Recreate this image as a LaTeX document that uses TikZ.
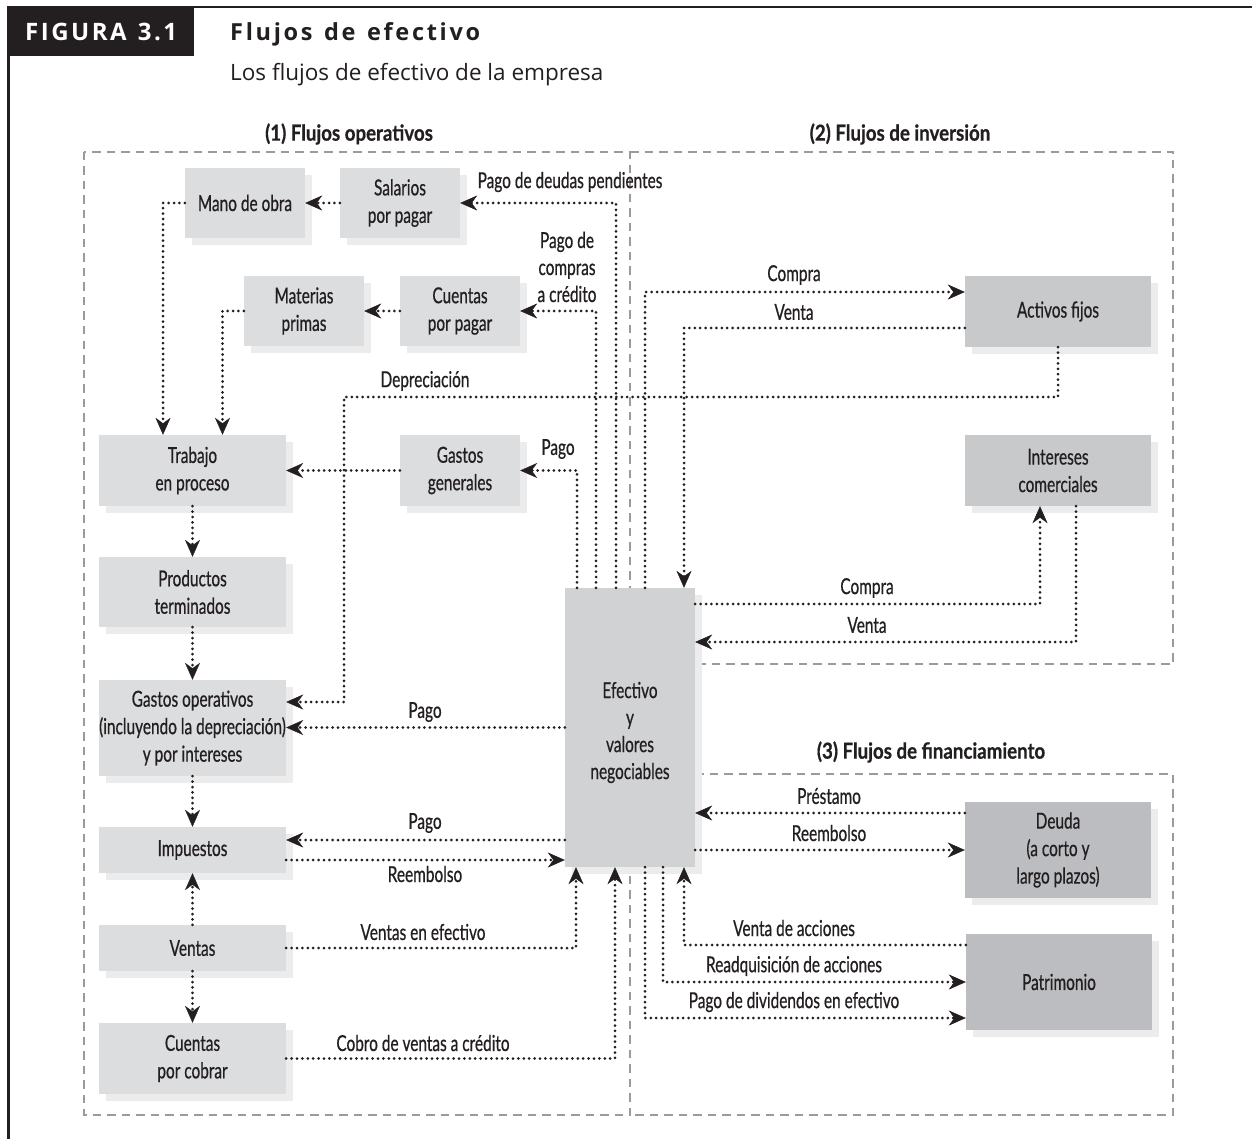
\documentclass[tikz,border=0pt]{standalone}
\usepackage{fontspec}
\setmainfont{Lato}
\newfontfamily\cond[FakeStretch=0.70,FakeBold=0.6]{Lato}
\newfontfamily\condb[FakeStretch=0.85,FakeBold=0.6]{Lato Bold}
\newfontfamily\hdr{Open Sans}
\usetikzlibrary{arrows.meta,shadows}
\definecolor{ink}{RGB}{35,31,32}
\definecolor{boxlight}{RGB}{220,221,223}
\definecolor{boxmid}{RGB}{200,201,203}
\definecolor{boxdark}{RGB}{188,189,192}
\definecolor{cashc}{RGB}{209,210,212}
\definecolor{shadowc}{RGB}{236,236,237}
\definecolor{regc}{RGB}{155,155,155}
% manual letter spacing to a target width
\newlength\lspw
\makeatletter
\def\lsp@end{\lsp@end}
\def\lsp#1{\lsp@#1\lsp@end}
\def\lsp@#1{\ifx#1\lsp@end\else#1\kern\lspamt\relax\expandafter\lsp@\fi}
\newcommand\spreadto[3]{\settowidth\lspw{#3}\edef\lspamt{\the\dimexpr(#1-\lspw)/#2\relax}\lsp{#3}\unkern}
\makeatother
\tikzset{
  box/.style={fill=boxlight, inner sep=0pt, align=center, text=ink,
    font=\cond\fontsize{22}{27.5}\selectfont,
    drop shadow={shadow xshift=7pt, shadow yshift=-7pt, fill=shadowc, opacity=1}},
  sz/.style 2 args={minimum width=#1pt, minimum height=#2pt},
  flow/.style={line width=3pt, dash pattern=on 0pt off 5.4pt, line cap=round, draw=ink},
  arr/.style={-{Stealth[length=17pt,width=15pt,inset=5.5pt,line width=0.4pt]}},
  region/.style={draw=regc, line width=2.2pt, dash pattern=on 8.5pt off 6pt},
  lbl/.style={text=ink, inner sep=0pt, align=center, font=\cond\fontsize{22}{27}\selectfont},
  sec/.style={text=ink, inner sep=0pt, font=\condb\fontsize{22}{27}\selectfont},
}
\begin{document}
\begin{tikzpicture}[x=1pt,y=-1pt]
\useasboundingbox (0,0) rectangle (1252,1139);
% frame and header
\fill[white] (0,0) rectangle (1252,1139);
\draw[ink, line width=2.6pt] (8.7,7) -- (1252,7);
\draw[ink, line width=2.6pt] (8.7,6) -- (8.7,1139);
\fill[ink] (7,6) rectangle (194,56);
\node[anchor=base west, inner sep=0pt, text=white, font=\hdr\bfseries\fontsize{24}{26}\selectfont] (fig) at (25,41) {\spreadto{152pt}{9}{FIGURA~3.1}};
\node[anchor=base west, inner sep=0pt, text=ink, font=\hdr\bfseries\fontsize{23.5}{26}\selectfont] (title) at (230,41) {\spreadto{250pt}{17}{Flujos~de~efectivo}};
\node[anchor=base west, inner sep=0pt, text=ink, font=\hdr\fontsize{22.5}{24}\selectfont] (subtitle) at (230,81) {Los flujos de efectivo de la empresa};
% section labels
\node[sec] (s1) at (349,134) {(1) Flujos operativos};
\node[sec] (s2) at (900,134) {(2) Flujos de inversión};
\node[sec] (s3) at (931,752) {(3) Flujos de financiamiento};
% regions
\draw[region] (84,152) rectangle (630,1115);
\draw[region] (630,152) -- (1173,152) -- (1173,664) -- (695,664);
\draw[region] (695,774) -- (1173,774) -- (1173,1115) -- (630,1115);
% boxes
\node[box, sz={120}{70}] (mano) at (245,203) {Mano de obra};
\node[box, sz={120}{70}] (salarios) at (400,203) {Salarios\\por pagar};
\node[box, sz={120}{70}] (materias) at (304,311) {Materias\\primas};
\node[box, sz={120}{70}] (cxp) at (460,311) {Cuentas\\por pagar};
\node[box, sz={187}{71}] (trabajo) at (192.5,470.5) {Trabajo\\en proceso};
\node[box, sz={120}{71}] (gastosgen) at (460,470.5) {Gastos\\generales};
\node[box, sz={187}{70}] (productos) at (192.5,592) {Productos\\terminados};
\node[box, sz={187}{96}] (gastosop) at (192.5,728) {Gastos operativos\\(incluyendo la depreciación)\\y por intereses};
\node[box, sz={187}{46}] (impuestos) at (192.5,850) {Impuestos};
\node[box, sz={187}{46}] (ventas) at (192.5,948) {Ventas};
\node[box, sz={187}{71}] (cxc) at (192.5,1058.5) {Cuentas\\por cobrar};
\node[box, fill=cashc, sz={130}{279}] (cash) at (630,727.5) {};
\node[lbl, yshift=-5pt] (cashtext) at (cash.center) {Efectivo\\y\\valores\\negociables};
\node[box, fill=boxmid, sz={186}{71}] (activos) at (1058,311.5) {Activos fijos};
\node[box, fill=boxmid, sz={186}{71}] (intereses) at (1058,470.5) {Intereses\\comerciales};
\node[box, fill=boxdark, sz={186}{96}] (deuda) at (1058,850) {Deuda\\(a corto y\\largo plazos)};
\node[box, fill=boxdark, sz={186}{96}] (patrimonio) at (1059,982) {Patrimonio};
% helper coordinates
\coordinate (dep) at (344,397);
\coordinate (ip) at ([yshift=10pt]impuestos.east);
\coordinate (ir) at ([yshift=-10pt]impuestos.east);
\coordinate (dp) at ([yshift=37pt]deuda.west);
% operating flows
\draw[flow,arr] (salarios.west) -- (mano.east);
\draw[flow,arr] (mano.west) -| ([xshift=-29.5pt]trabajo.north);
\draw[flow,arr] (cxp.west) -- (materias.east);
\draw[flow,arr] (materias.west) -| ([xshift=30pt]trabajo.north);
\draw[flow,arr] ([xshift=-14pt]cash.north) |- (salarios.east);
\draw[flow,arr] ([xshift=-34pt]cash.north) |- (cxp.east);
\draw[flow,arr] ([xshift=-53pt]cash.north) |- (gastosgen.east);
\draw[flow,arr] (gastosgen.west) -- (trabajo.east);
\draw[flow,arr] (activos.south) |- (dep) |- ([yshift=26pt]gastosop.east);
\draw[flow,arr] (trabajo.south) -- (productos.north);
\draw[flow,arr] (productos.south) -- (gastosop.north);
\draw[flow,arr] (cash.west) -- (cash.west -| gastosop.east);
\draw[flow,arr] (gastosop.south) -- (impuestos.north);
\draw[flow,arr] (ip -| cash.west) -- (ip);
\draw[flow,arr] (ir) -- (ir -| cash.west);
\draw[flow,arr] (ventas.north) -- (impuestos.south);
\draw[flow,arr] (ventas.south) -- (cxc.north);
\draw[flow,arr] (ventas.east) -| ([xshift=-54pt]cash.south);
\draw[flow,arr] (cxc.east) -| ([xshift=-15pt]cash.south);
% investment flows
\draw[flow,arr] ([xshift=15pt]cash.north) |- ([yshift=19.5pt]activos.west);
\draw[flow,arr] ([yshift=-16.5pt]activos.west) -| ([xshift=54pt]cash.north);
\draw[flow,arr] ([yshift=123.5pt]cash.east) -| ([xshift=-18pt]intereses.south);
\draw[flow,arr] ([xshift=18pt]intereses.south) |- ([yshift=85.5pt]cash.east);
% financing flows
\draw[flow,arr] (dp) -- (dp -| cash.east);
\draw[flow,arr] (cash.east |- deuda.west) -- (deuda.west);
\draw[flow,arr] ([yshift=37pt]patrimonio.west) -| ([xshift=54pt]cash.south);
\draw[flow,arr] ([xshift=33pt]cash.south) |- (patrimonio.west);
\draw[flow,arr] ([xshift=15pt]cash.south) |- ([yshift=-36pt]patrimonio.west);
% labels
\node[lbl] (l1) at (570,182) {Pago de deudas pendientes};
\node[lbl] (l2) at (567,267) {Pago de\\compras\\a crédito};
\node[lbl] (l3) at (558,449) {Pago};
\node[lbl] (l4) at (425,381) {Depreciación};
\node[lbl] (l5) at (425,712) {Pago};
\node[lbl] (l6) at (425,823) {Pago};
\node[lbl] (l7) at (425,874) {Reembolso};
\node[lbl] (l8) at (423,932) {Ventas en efectivo};
\node[lbl] (l9) at (423,1043) {Cobro de ventas a crédito};
\node[lbl] (l10) at (794,275) {Compra};
\node[lbl] (l11) at (794,312) {Venta};
\node[lbl] (l12) at (867,588) {Compra};
\node[lbl] (l13) at (867,625) {Venta};
\node[lbl] (l14) at (829,796) {Préstamo};
\node[lbl] (l15) at (829,833) {Reembolso};
\node[lbl] (l16) at (794,928) {Venta de acciones};
\node[lbl] (l17) at (794,966) {Readquisición de acciones};
\node[lbl] (l18) at (794,1002) {Pago de dividendos en efectivo};
\end{tikzpicture}
\end{document}
